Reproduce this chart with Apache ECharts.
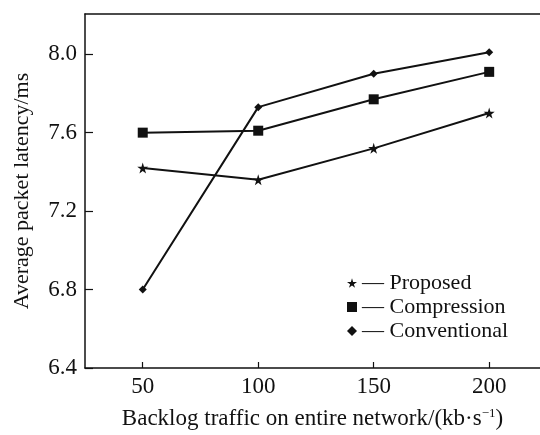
<!DOCTYPE html>
<html>
<head>
<meta charset="utf-8">
<script src="https://cdn.jsdelivr.net/npm/echarts@6/dist/echarts.min.js"></script>
<style>html,body{margin:0;padding:0;background:#fff;}#c{width:540px;height:435px;}</style>
</head>
<body>
<div id="c"></div>
<script>
var xValues = [50, 100, 150, 200];
var proposed = [7.42, 7.36, 7.52, 7.70];
var compression = [7.60, 7.61, 7.77, 7.91];
var conventional = [6.80, 7.73, 7.90, 8.01];
var seriesNames = ['Proposed', 'Compression', 'Conventional'];
var xTicks = [50, 100, 150, 200];
var yTicks = [6.4, 6.8, 7.2, 7.6, 8.0];

var STAR = 'path://M50,0 L61,35 L98,35 L68,57 L79,91 L50,70 L21,91 L32,57 L2,35 L39,35 Z';
var symbols = [STAR, 'rect', 'diamond'];
var sizes = [11, 10, 8];
var legendSizes = [9, 9, 8];
var dataSets = [proposed, compression, conventional];
var font = 'Liberation Serif';

function pairs(vals) { return xValues.map(function (x, i) { return [x, vals[i]]; }); }

var chart = echarts.init(document.getElementById('c'), null, {renderer: 'canvas'});
chart.setOption({
  animation: false,
  backgroundColor: '#fff',
  grid: {left: 85, right: 0, top: 14, bottom: 59},
  xAxis: [{
    type: 'value', min: 25, max: 222,
    name: 'Backlog traffic on entire network/(kb\u00b7s{sup|\u22121})',
    nameLocation: 'middle', nameGap: 39,
    nameTextStyle: {fontFamily: font, fontSize: 23, color: '#111',
      rich: {sup: {fontFamily: font, fontSize: 13, color: '#111', verticalAlign: 'top', padding: [0, 0, 10, 0]}}},
    axisLine: {lineStyle: {color: '#111', width: 1.5}},
    axisTick: {inside: true, length: 6, customValues: xTicks, lineStyle: {color: '#111', width: 1.2}},
    axisLabel: {customValues: xTicks, fontFamily: font, fontSize: 23, color: '#111', margin: 7},
    splitLine: {show: false}
  }, {
    type: 'value', min: 25, max: 222, position: 'top',
    axisLine: {show: true, onZero: false, lineStyle: {color: '#111', width: 1.5}},
    axisTick: {show: false}, axisLabel: {show: false}, splitLine: {show: false}
  }],
  yAxis: {
    type: 'value', min: 6.4, max: 8.205,
    name: 'Average packet latency/ms',
    nameLocation: 'middle', nameGap: 52,
    nameTextStyle: {fontFamily: font, fontSize: 22, color: '#111'},
    axisLine: {show: true, lineStyle: {color: '#111', width: 1.5}},
    axisTick: {show: true, inside: true, length: 8, customValues: yTicks, lineStyle: {color: '#111', width: 1.2}},
    axisLabel: {customValues: yTicks, fontFamily: font, fontSize: 23, color: '#111', margin: 8,
      formatter: function (v) { return v.toFixed(1); }},
    splitLine: {show: false}
  },
  legend: {
    left: 342, top: 267, orient: 'vertical', itemGap: 2,
    itemWidth: 10, itemHeight: 10,
    data: seriesNames.map(function (n, i) {
      return {name: n, icon: symbols[i], itemStyle: {color: '#111'}};
    }),
    formatter: function (n) { return '\u2014 ' + n; },
    textStyle: {fontFamily: font, fontSize: 22, color: '#111'}
  },
  series: seriesNames.map(function (n, i) {
    return {
      name: n, type: 'line', data: pairs(dataSets[i]),
      symbol: symbols[i], symbolSize: sizes[i],
      lineStyle: {color: '#111', width: 2},
      itemStyle: {color: '#111'},
      color: '#111'
    };
  })
});
</script>
</body>
</html>
